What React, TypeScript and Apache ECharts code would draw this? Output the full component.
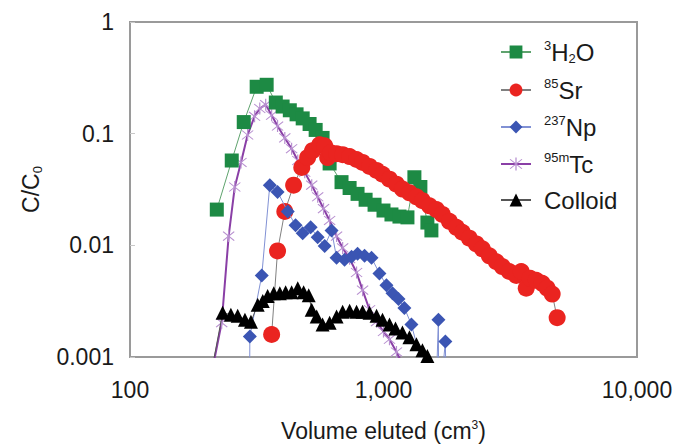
import React, { useEffect, useRef } from 'react';
import * as echarts from 'echarts';

const FONT = '"Liberation Sans", Arial, Helvetica, sans-serif';

// Volume eluted (cm3) and C/C0 for each tracer
const h2oX = [220, 252, 281, 316, 346, 376, 400, 427, 454, 480, 511, 540, 575, 613, 683, 735, 790, 850, 922, 1000, 1075, 1156, 1243, 1324, 1398, 1490, 1545];
const h2oY = [0.0209, 0.0575, 0.127, 0.263, 0.274, 0.19, 0.175, 0.162, 0.149, 0.137, 0.122, 0.108, 0.0916, 0.0541, 0.0368, 0.0326, 0.0289, 0.0256, 0.0231, 0.0205, 0.0189, 0.0181, 0.0178, 0.0407, 0.0333, 0.016, 0.0136];

const srX = [362, 382, 408, 442, 476, 502, 525, 560, 586, 602, 618, 653, 690, 735, 783, 827, 881, 939, 991, 1056, 1125, 1188, 1266, 1349, 1424, 1518, 1617, 1707, 1819, 1938, 2046, 2181, 2324, 2453, 2615, 2786, 2941, 3134, 3339, 3494, 3656, 3791, 4004, 4227, 4423, 4628, 4842];
const srY = [0.00159, 0.00892, 0.0201, 0.0346, 0.0499, 0.0611, 0.0704, 0.0795, 0.0779, 0.0611, 0.0676, 0.0662, 0.0649, 0.0623, 0.0587, 0.0552, 0.0509, 0.0469, 0.0433, 0.0391, 0.0353, 0.0319, 0.0295, 0.0272, 0.0251, 0.0226, 0.0209, 0.0189, 0.0164, 0.0145, 0.0131, 0.0116, 0.0103, 0.0093, 0.00806, 0.00713, 0.00645, 0.00583, 0.00537, 0.00583, 0.00413, 0.00506, 0.00486, 0.00457, 0.00413, 0.00366, 0.00225];

const npX = [296, 297, 331, 356, 382, 419, 450, 480, 516, 550, 586, 624, 653, 702, 748, 790, 842, 897, 964, 1027, 1085, 1146, 1209, 1289, 1600, 1647, 1650, 1754, 1770];
const npY = [0.0003, 0.00153, 0.00537, 0.0346, 0.0301, 0.0201, 0.0151, 0.0128, 0.0145, 0.0118, 0.00987, 0.0136, 0.00773, 0.00743, 0.00789, 0.00839, 0.00806, 0.00773, 0.0056, 0.00439, 0.00373, 0.0033, 0.00275, 0.00195, 0.0003, 0.00216, 0.0003, 0.00138, 0.0003];

const tcX = [212, 230, 245, 259, 274, 291, 310, 325, 343, 362, 382, 408, 434, 459, 489, 521, 550, 580, 613, 653, 690, 735, 783, 827, 881, 939, 1000, 1056, 1125, 1209];
const tcY = [0.0008, 0.00203, 0.0121, 0.0333, 0.0552, 0.0973, 0.143, 0.168, 0.182, 0.146, 0.117, 0.0916, 0.0733, 0.0575, 0.0451, 0.0346, 0.0272, 0.0213, 0.0167, 0.0121, 0.00948, 0.00759, 0.00571, 0.00397, 0.00265, 0.00207, 0.00169, 0.00144, 0.00111, 0.0008];

const colX = [206, 232, 250, 266, 284, 300, 319, 334, 349, 369, 390, 411, 434, 459, 484, 507, 521, 545, 575, 613, 653, 690, 735, 783, 827, 881, 939, 991, 1056, 1115, 1188, 1266, 1349, 1424, 1490, 1559];
const colY = [0.0006, 0.00249, 0.00239, 0.00234, 0.00216, 0.00207, 0.00293, 0.00317, 0.00351, 0.00373, 0.00373, 0.00381, 0.00381, 0.00413, 0.00381, 0.00358, 0.00265, 0.0023, 0.00195, 0.00203, 0.0023, 0.00254, 0.00259, 0.00254, 0.00254, 0.00249, 0.00234, 0.00216, 0.00195, 0.0018, 0.00166, 0.0015, 0.0013, 0.00115, 0.00102, 0.0008];

const seriesNames = ['H2O', 'Sr', 'Np', 'Tc', 'Colloid'];
const legendLabels: Record<string, string> = {
  H2O: '{g|}{sup|3}{n|H}{sub|2}{n|O}',
  Sr: '{g|}{sup|85}{n|Sr}',
  Np: '{g|}{sup|237}{n|Np}',
  Tc: '{g|}{sup|95m}{n|Tc}',
  Colloid: '{g|}{n|Colloid}',
};
const xTicks = [100, 1000, 10000];
const yTicks = [0.001, 0.01, 0.1, 1];

const ASTERISK =
  'path://M9.2 0H10.8V20H9.2Z M2 3.1L3.1 2L18 16.9L16.9 18Z M16.9 2L18 3.1L3.1 18L2 16.9Z';

const zip = (xs: number[], ys: number[]) => xs.map((x, i) => [x, ys[i]]);

export default function App() {
  const ref = useRef<HTMLDivElement>(null);
  useEffect(() => {
    if (!ref.current) return;
    const chart = echarts.init(ref.current, undefined, { renderer: 'svg' });
    const option: any = {
      animation: false,
      backgroundColor: '#ffffff',
      textStyle: { fontFamily: FONT },
      grid: {
        left: 130,
        right: 39,
        top: 22,
        bottom: 84,
        show: true,
        borderColor: '#9a9a9a',
        borderWidth: 2,
        backgroundColor: 'transparent',
      },
      legend: {
        data: seriesNames,
        orient: 'vertical',
        left: 495,
        top: 34,
        itemWidth: 30,
        itemHeight: 16,
        itemGap: 12,
        formatter: (name: string) => legendLabels[name] || name,
        textStyle: {
          fontFamily: FONT,
          rich: {
            g: { width: 8, fontSize: 24, lineHeight: 26 },
            n: { fontSize: 24, lineHeight: 26, color: '#1a1a1a', fontFamily: FONT },
            sup: { fontSize: 13, lineHeight: 14, verticalAlign: 'top', color: '#1a1a1a', fontFamily: FONT },
            sub: { fontSize: 13, lineHeight: 12, verticalAlign: 'bottom', color: '#1a1a1a', fontFamily: FONT },
          },
        },
      },
      xAxis: {
        type: 'log',
        logBase: 10,
        min: xTicks[0],
        max: xTicks[xTicks.length - 1],
        name: 'Volume eluted (cm{sup|3})',
        nameLocation: 'middle',
        nameGap: 62,
        nameTextStyle: {
          fontSize: 23,
          color: '#1a1a1a',
          fontFamily: FONT,
          rich: {
            sup: { fontSize: 12, lineHeight: 14, verticalAlign: 'top', color: '#1a1a1a', fontFamily: FONT },
          },
        },
        axisLine: { show: false },
        axisTick: { show: false },
        splitLine: { show: false },
        minorTick: { show: false },
        axisLabel: {
          fontSize: 23,
          color: '#1a1a1a',
          fontFamily: FONT,
          margin: 21,
          formatter: (v: number) => Math.round(v).toLocaleString('en-US'),
        },
      },
      yAxis: {
        type: 'log',
        logBase: 10,
        min: yTicks[0],
        max: yTicks[yTicks.length - 1],
        name: '{n|C/C}{sub|0}',
        nameLocation: 'middle',
        nameRotate: 90,
        nameGap: 86,
        nameTextStyle: {
          fontFamily: FONT,
          rich: {
            n: { fontSize: 23, lineHeight: 26, color: '#1a1a1a', fontFamily: FONT },
            sub: { fontSize: 13, lineHeight: 12, verticalAlign: 'bottom', color: '#1a1a1a', fontFamily: FONT },
          },
        },
        axisLine: { show: false },
        axisTick: { show: true, inside: true, length: 5, lineStyle: { color: '#c8c8c8', width: 1 } },
        splitLine: { show: false },
        axisLabel: {
          fontSize: 23,
          color: '#1a1a1a',
          fontFamily: FONT,
          margin: 16,
          formatter: (v: number) => String(Number(v.toPrecision(1))),
        },
      },
      series: [
        {
          name: 'H2O',
          type: 'line',
          data: zip(h2oX, h2oY),
          symbol: 'rect',
          symbolSize: 14,
          itemStyle: { color: '#1d8a44' },
          lineStyle: { color: '#5fa36e', width: 1 },
          z: 2,
        },
        {
          name: 'Sr',
          type: 'line',
          data: zip(srX, srY),
          symbol: 'circle',
          symbolSize: 17,
          itemStyle: { color: '#ea2420' },
          lineStyle: { color: '#808080', width: 1 },
          z: 3,
        },
        {
          name: 'Np',
          type: 'line',
          data: zip(npX, npY),
          symbol: 'diamond',
          symbolSize: 14,
          itemStyle: { color: '#3b55b3' },
          lineStyle: { color: '#8191d4', width: 1 },
          z: 4,
        },
        {
          name: 'Tc',
          type: 'line',
          data: zip(tcX, tcY),
          symbol: ASTERISK,
          symbolSize: 12,
          itemStyle: { color: '#b890d0' },
          lineStyle: { color: '#8a3fa6', width: 2 },
          z: 1,
        },
        {
          name: 'Colloid',
          type: 'line',
          data: zip(colX, colY),
          symbol: 'triangle',
          symbolSize: 14,
          itemStyle: { color: '#000000' },
          lineStyle: { color: '#555555', width: 1 },
          z: 5,
        },
      ],
    };
    chart.setOption(option);
    return () => chart.dispose();
  }, []);
  return <div ref={ref} style={{ position: 'absolute', left: 0, top: 0, width: 676, height: 447 }} />;
}
